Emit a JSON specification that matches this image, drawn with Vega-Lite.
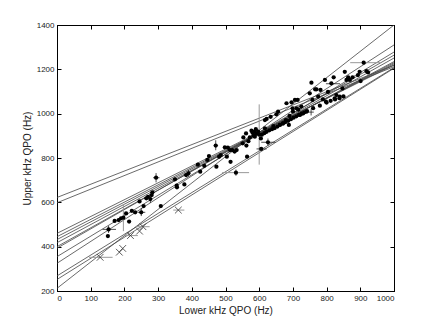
{
  "$schema": "https://vega.github.io/schema/vega-lite/v6.json",
  "width": 337,
  "height": 266,
  "autosize": "none",
  "padding": {"left": 57, "top": 25, "right": 42, "bottom": 37},
  "background": "white",
  "config": {
    "view": {"stroke": "black", "strokeWidth": 1},
    "axis": {
      "labelFont": "Liberation Sans", "labelFontSize": 8, "labelColor": "#222",
      "titleFont": "Liberation Sans", "titleFontSize": 10, "titleFontWeight": "normal", "titleColor": "#222",
      "domainColor": "black", "tickColor": "black", "tickSize": -4, "labelPadding": 7, "grid": false, "format": "d"
    }
  },
  "datasets": {
    "lines": [
      {"id": 1, "x": 0, "y": 212}, {"id": 1, "x": 1000, "y": 1400},
      {"id": 2, "x": 0, "y": 325}, {"id": 2, "x": 1000, "y": 1310},
      {"id": 3, "x": 0, "y": 355}, {"id": 3, "x": 1000, "y": 1278},
      {"id": 4, "x": 0, "y": 393}, {"id": 4, "x": 1000, "y": 1264},
      {"id": 5, "x": 0, "y": 400}, {"id": 5, "x": 1000, "y": 1251},
      {"id": 6, "x": 0, "y": 418}, {"id": 6, "x": 1000, "y": 1235},
      {"id": 7, "x": 0, "y": 432}, {"id": 7, "x": 1000, "y": 1230},
      {"id": 8, "x": 0, "y": 445}, {"id": 8, "x": 1000, "y": 1225},
      {"id": 9, "x": 0, "y": 460}, {"id": 9, "x": 1000, "y": 1220},
      {"id": 10, "x": 0, "y": 598}, {"id": 10, "x": 1000, "y": 1212},
      {"id": 11, "x": 0, "y": 622}, {"id": 11, "x": 1000, "y": 1218},
      {"id": 12, "x": 0, "y": 252}, {"id": 12, "x": 1000, "y": 1205},
      {"id": 13, "x": 0, "y": 268}, {"id": 13, "x": 1000, "y": 1208}
    ],
    "points": [
      {"x": 153, "y": 478}, {"x": 151, "y": 448}, {"x": 171, "y": 516}, {"x": 183, "y": 520},
      {"x": 190, "y": 528}, {"x": 197, "y": 531}, {"x": 205, "y": 550}, {"x": 214, "y": 513},
      {"x": 222, "y": 562}, {"x": 232, "y": 555}, {"x": 245, "y": 604}, {"x": 250, "y": 555},
      {"x": 257, "y": 583}, {"x": 265, "y": 618}, {"x": 270, "y": 625}, {"x": 277, "y": 615},
      {"x": 281, "y": 633}, {"x": 283, "y": 645}, {"x": 294, "y": 711}, {"x": 308, "y": 583},
      {"x": 350, "y": 704}, {"x": 355, "y": 675}, {"x": 356, "y": 668}, {"x": 378, "y": 681},
      {"x": 383, "y": 723}, {"x": 390, "y": 731}, {"x": 418, "y": 770}, {"x": 425, "y": 738},
      {"x": 437, "y": 765}, {"x": 446, "y": 791}, {"x": 451, "y": 809}, {"x": 471, "y": 856},
      {"x": 473, "y": 761}, {"x": 481, "y": 806}, {"x": 486, "y": 813}, {"x": 498, "y": 848},
      {"x": 504, "y": 806}, {"x": 507, "y": 847}, {"x": 513, "y": 836}, {"x": 515, "y": 783},
      {"x": 520, "y": 836}, {"x": 527, "y": 829}, {"x": 533, "y": 836}, {"x": 531, "y": 734},
      {"x": 551, "y": 866}, {"x": 553, "y": 893}, {"x": 561, "y": 911}, {"x": 562, "y": 856},
      {"x": 564, "y": 806}, {"x": 568, "y": 876}, {"x": 572, "y": 893}, {"x": 577, "y": 923},
      {"x": 580, "y": 915}, {"x": 583, "y": 903}, {"x": 587, "y": 896}, {"x": 592, "y": 911},
      {"x": 597, "y": 919}, {"x": 600, "y": 905}, {"x": 605, "y": 888}, {"x": 606, "y": 841},
      {"x": 617, "y": 934}, {"x": 617, "y": 971}, {"x": 622, "y": 976}, {"x": 626, "y": 871},
      {"x": 634, "y": 986}, {"x": 642, "y": 944}, {"x": 651, "y": 997}, {"x": 656, "y": 1009},
      {"x": 661, "y": 949}, {"x": 671, "y": 957}, {"x": 679, "y": 971}, {"x": 681, "y": 1047},
      {"x": 688, "y": 949}, {"x": 696, "y": 1051}, {"x": 699, "y": 1024}, {"x": 706, "y": 1062},
      {"x": 711, "y": 1024}, {"x": 714, "y": 1062}, {"x": 721, "y": 994}, {"x": 725, "y": 1032},
      {"x": 730, "y": 1001}, {"x": 740, "y": 1009}, {"x": 750, "y": 1092}, {"x": 755, "y": 1140},
      {"x": 758, "y": 1062}, {"x": 766, "y": 1110}, {"x": 770, "y": 1110}, {"x": 775, "y": 1077},
      {"x": 782, "y": 1107}, {"x": 789, "y": 1065}, {"x": 795, "y": 1152}, {"x": 798, "y": 1054},
      {"x": 804, "y": 1098}, {"x": 814, "y": 1137}, {"x": 821, "y": 1164}, {"x": 824, "y": 1069},
      {"x": 829, "y": 1084}, {"x": 839, "y": 1077}, {"x": 847, "y": 1114}, {"x": 854, "y": 1189},
      {"x": 859, "y": 1152}, {"x": 864, "y": 1164}, {"x": 869, "y": 1152}, {"x": 877, "y": 1164},
      {"x": 893, "y": 1174}, {"x": 898, "y": 1189}, {"x": 901, "y": 1147}, {"x": 910, "y": 1230},
      {"x": 918, "y": 1192}, {"x": 923, "y": 1186},
      {"x": 608, "y": 905}, {"x": 615, "y": 912}, {"x": 622, "y": 918}, {"x": 630, "y": 925},
      {"x": 638, "y": 930}, {"x": 646, "y": 935}, {"x": 654, "y": 942}, {"x": 662, "y": 950},
      {"x": 670, "y": 955}, {"x": 678, "y": 962}, {"x": 686, "y": 968}, {"x": 694, "y": 975},
      {"x": 702, "y": 982}, {"x": 710, "y": 988}, {"x": 718, "y": 995}, {"x": 726, "y": 1000},
      {"x": 734, "y": 1006}, {"x": 742, "y": 1012}, {"x": 760, "y": 1025}, {"x": 780, "y": 1036},
      {"x": 800, "y": 1050}, {"x": 812, "y": 1058}, {"x": 825, "y": 1064}, {"x": 838, "y": 1070},
      {"x": 850, "y": 1078}, {"x": 590, "y": 930}, {"x": 585, "y": 918}, {"x": 700, "y": 1010},
      {"x": 716, "y": 1018}, {"x": 690, "y": 990}
    ],
    "crosses": [
      {"x": 128, "y": 352}, {"x": 185, "y": 375}, {"x": 195, "y": 392}, {"x": 218, "y": 450},
      {"x": 245, "y": 470}, {"x": 255, "y": 490}, {"x": 360, "y": 565}
    ],
    "xerrBlack": [
      {"x1": 135, "x2": 175, "y": 478}, {"x1": 285, "x2": 304, "y": 711}, {"x1": 240, "x2": 262, "y": 555},
      {"x1": 465, "x2": 478, "y": 856}, {"x1": 606, "x2": 648, "y": 871}, {"x1": 592, "x2": 622, "y": 841},
      {"x1": 798, "x2": 840, "y": 1135}, {"x1": 745, "x2": 762, "y": 1007}
    ],
    "yerrBlack": [
      {"x": 294, "y1": 690, "y2": 732}, {"x": 250, "y1": 538, "y2": 575}, {"x": 471, "y1": 835, "y2": 880},
      {"x": 626, "y1": 855, "y2": 888}, {"x": 531, "y1": 720, "y2": 748}, {"x": 277, "y1": 597, "y2": 638},
      {"x": 153, "y1": 462, "y2": 494}, {"x": 754, "y1": 992, "y2": 1020}, {"x": 390, "y1": 716, "y2": 746}
    ],
    "xerrGrey": [
      {"x1": 870, "x2": 960, "y": 1230}, {"x1": 490, "x2": 570, "y": 734}, {"x1": 95, "x2": 165, "y": 352},
      {"x1": 200, "x2": 240, "y": 450}, {"x1": 235, "x2": 275, "y": 490}, {"x1": 345, "x2": 378, "y": 565}
    ],
    "yerrGrey": [
      {"x": 600, "y1": 770, "y2": 1042}, {"x": 197, "y1": 470, "y2": 592}
    ]
  },
  "resolve": {"axis": {"x": "independent", "y": "independent"}},
  "layer": [
    {
      "data": {"name": "lines"},
      "mark": {"type": "line", "color": "#444", "strokeWidth": 0.8, "clip": true},
      "encoding": {
        "x": {"field": "x", "type": "quantitative", "scale": {"domain": [0, 1000], "nice": false},
              "axis": {"orient": "bottom", "title": "Lower kHz QPO (Hz)", "values": [0,100,200,300,400,500,600,700,800,900,1000], "titlePadding": 3}},
        "y": {"field": "y", "type": "quantitative", "scale": {"domain": [200, 1400], "nice": false},
              "axis": {"orient": "left", "title": "Upper kHz QPO (Hz)", "values": [200,400,600,800,1000,1200,1400], "titlePadding": 4}},
        "detail": {"field": "id"}
      }
    },
    {
      "data": {"name": "lines"},
      "mark": {"type": "point", "opacity": 0},
      "encoding": {
        "x": {"field": "x", "type": "quantitative", "axis": {"orient": "top", "labels": false, "title": null, "values": [0,100,200,300,400,500,600,700,800,900,1000]}},
        "y": {"field": "y", "type": "quantitative", "axis": {"orient": "right", "labels": false, "title": null, "values": [200,400,600,800,1000,1200,1400]}}
      }
    },
    {
      "data": {"name": "xerrGrey"},
      "mark": {"type": "rule", "color": "#999", "strokeWidth": 1},
      "encoding": {
        "x": {"field": "x1", "type": "quantitative", "axis": null},
        "x2": {"field": "x2"},
        "y": {"field": "y", "type": "quantitative", "axis": null}
      }
    },
    {
      "data": {"name": "yerrGrey"},
      "mark": {"type": "rule", "color": "#999", "strokeWidth": 1},
      "encoding": {
        "x": {"field": "x", "type": "quantitative", "axis": null},
        "y": {"field": "y1", "type": "quantitative", "axis": null},
        "y2": {"field": "y2"}
      }
    },
    {
      "data": {"name": "xerrBlack"},
      "mark": {"type": "rule", "color": "#222", "strokeWidth": 0.8},
      "encoding": {
        "x": {"field": "x1", "type": "quantitative", "axis": null},
        "x2": {"field": "x2"},
        "y": {"field": "y", "type": "quantitative", "axis": null}
      }
    },
    {
      "data": {"name": "yerrBlack"},
      "mark": {"type": "rule", "color": "#222", "strokeWidth": 0.8},
      "encoding": {
        "x": {"field": "x", "type": "quantitative", "axis": null},
        "y": {"field": "y1", "type": "quantitative", "axis": null},
        "y2": {"field": "y2"}
      }
    },
    {
      "data": {"name": "points"},
      "mark": {"type": "circle", "color": "black", "size": 18, "opacity": 1},
      "encoding": {
        "x": {"field": "x", "type": "quantitative", "axis": null},
        "y": {"field": "y", "type": "quantitative", "axis": null}
      }
    },
    {
      "data": {"name": "crosses"},
      "mark": {"type": "point", "shape": "M-1,-1L1,1M-1,1L1,-1", "filled": false, "color": "#333", "strokeWidth": 0.8, "size": 45, "opacity": 1},
      "encoding": {
        "x": {"field": "x", "type": "quantitative", "axis": null},
        "y": {"field": "y", "type": "quantitative", "axis": null}
      }
    }
  ]
}
